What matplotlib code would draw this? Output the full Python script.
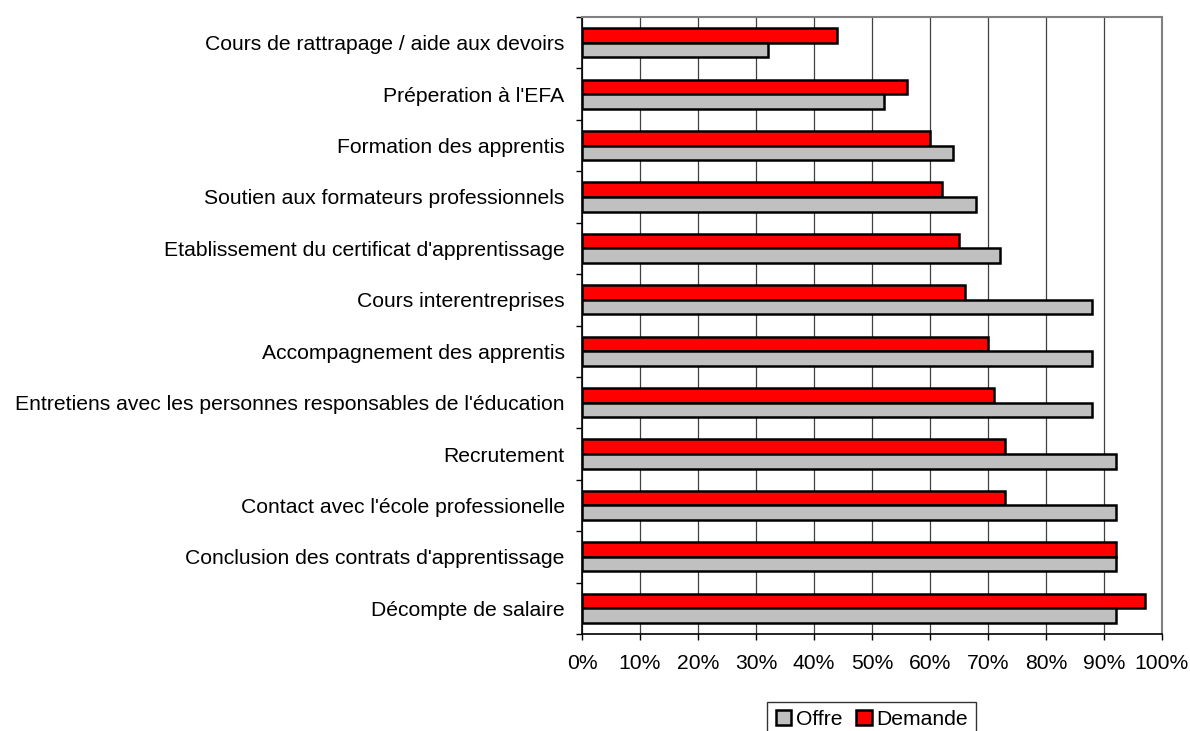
import matplotlib
matplotlib.use("Agg")
import matplotlib.pyplot as plt
import numpy as np
from matplotlib.patches import Patch

plt.rcParams['font.family'] = ['Liberation Sans', 'DejaVu Sans']

categories = [
    "Cours de rattrapage / aide aux devoirs",
    "Préperation à l'EFA",
    "Formation des apprentis",
    "Soutien aux formateurs professionnels",
    "Etablissement du certificat d'apprentissage",
    "Cours interentreprises",
    "Accompagnement des apprentis",
    "Entretiens avec les personnes responsables de l'éducation",
    "Recrutement",
    "Contact avec l'école professionelle",
    "Conclusion des contrats d'apprentissage",
    "Décompte de salaire",
]
offre = [32, 52, 64, 68, 72, 88, 88, 88, 92, 92, 92, 92]
demande = [44, 56, 60, 62, 65, 66, 70, 71, 73, 73, 92, 97]
xticks = [0, 10, 20, 30, 40, 50, 60, 70, 80, 90, 100]
xticklabels = [f"{t}%" for t in xticks]

FS = 15.2
fig = plt.figure(figsize=(11.9, 7.31), dpi=100)
ax = fig.add_axes([582/1190, 1-634/731, (1162-582)/1190, (634-17)/731])

y = np.arange(len(categories))
h = 0.283
ax.barh(y - h/2, demande, height=h, color='#FF0000', edgecolor='black', linewidth=1.8, zorder=3)
ax.barh(y + h/2, offre, height=h, color='#C0C0C0', edgecolor='black', linewidth=1.8, zorder=3)

ax.set_xlim(0, 100)
ax.set_ylim(len(categories) - 0.5, -0.5)
ax.set_xticks(xticks)
ax.set_xticklabels(xticklabels, fontsize=FS)
ax.xaxis.grid(True, color='#404040', linewidth=0.9, zorder=0)
ax.set_axisbelow(True)

ax.set_yticks(y)
ax.set_yticklabels(categories, fontsize=FS)
ax.tick_params(axis='y', length=0, pad=12.5)
ax.set_yticks(np.arange(len(categories) + 1) - 0.5, minor=True)
ax.tick_params(axis='y', which='minor', length=4.5, width=1, color='black')
ax.tick_params(axis='x', length=4.5, width=1, color='black', pad=10)

for s in ['top', 'right']:
    ax.spines[s].set_color('#808080')
    ax.spines[s].set_linewidth(1.5)
for s in ['left', 'bottom']:
    ax.spines[s].set_color('black')
    ax.spines[s].set_linewidth(1.2)

handles = [Patch(facecolor='#C0C0C0', edgecolor='black', linewidth=1.8, label='Offre'),
           Patch(facecolor='#FF0000', edgecolor='black', linewidth=1.8, label='Demande')]
leg = fig.legend(handles=handles, loc='upper center', bbox_to_anchor=(871.5/1190, 1-702/731), ncol=2,
                 fontsize=FS, frameon=True, fancybox=False, handlelength=0.75, handleheight=0.75,
                 handletextpad=0.2, columnspacing=0.65, borderpad=0.38, borderaxespad=0)
leg.get_frame().set_edgecolor('black')
leg.get_frame().set_linewidth(1.0)

fig.savefig("out.png", dpi=100)
